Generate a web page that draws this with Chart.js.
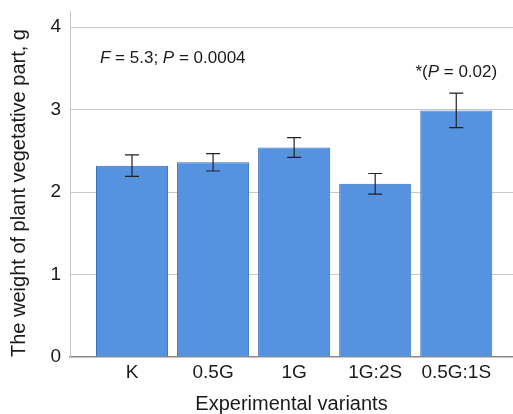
<!DOCTYPE html>
<html>
<head>
<meta charset="utf-8">
<script src="https://cdn.jsdelivr.net/npm/chart.js@4"></script>
<style>
html,body{margin:0;padding:0;background:#fff;}
#wrap{width:513px;height:414px;position:relative;}
</style>
</head>
<body>
<div id="wrap"><canvas id="c" width="513" height="414"></canvas></div>
<script>
const categories = ["K", "0.5G", "1G", "1G:2S", "0.5G:1S"];
const means = [2.32, 2.36, 2.54, 2.10, 2.99];
const errors = [0.13, 0.105, 0.12, 0.125, 0.21];
const yTicks = [0, 1, 2, 3, 4];
const anovaText = [["F", true], [" = 5.3; ", false], ["P", true], [" = 0.0004", false]];
const sigText = [["*(", false], ["P", true], [" = 0.02)", false]];
const sigIndex = 4;

const FONT = "'Liberation Sans', Arial, sans-serif";

function drawRuns(ctx, runs, x, y, size, align) {
  let total = 0;
  const widths = runs.map(([t, it]) => {
    ctx.font = (it ? "italic " : "") + size + "px " + FONT;
    const w = ctx.measureText(t).width; total += w; return w;
  });
  let cx = align === "center" ? x - total / 2 : x;
  runs.forEach(([t, it], i) => {
    ctx.font = (it ? "italic " : "") + size + "px " + FONT;
    ctx.fillText(t, cx, y);
    cx += widths[i];
  });
}

const extras = {
  id: "extras",
  afterDatasetsDraw(chart) {
    const ctx = chart.ctx, xs = chart.scales.x, ys = chart.scales.y;
    ctx.save();
    ctx.strokeStyle = "#222";
    ctx.lineWidth = 1.2;
    means.forEach((m, i) => {
      const x = xs.getPixelForValue(i);
      const t = ys.getPixelForValue(m + errors[i]);
      const b = ys.getPixelForValue(m - errors[i]);
      ctx.beginPath();
      ctx.moveTo(x, t); ctx.lineTo(x, b);
      ctx.moveTo(x - 7, t); ctx.lineTo(x + 7, t);
      ctx.moveTo(x - 7, b); ctx.lineTo(x + 7, b);
      ctx.stroke();
    });
    ctx.fillStyle = "#1a1a1a";
    ctx.textBaseline = "middle";
    drawRuns(ctx, anovaText, xs.getPixelForValue(-0.395), ys.getPixelForValue(3.62), 17, "left");
    drawRuns(ctx, sigText, xs.getPixelForValue(sigIndex), ys.getPixelForValue(3.45), 17, "center");
    ctx.restore();
  }
};

new Chart(document.getElementById("c"), {
  type: "bar",
  data: {
    datasets: [{
      data: means.map((v, i) => ({ x: i, y: v })),
      backgroundColor: "#5592E0",
      borderColor: "#3A72C0",
      borderWidth: 1,
      barPercentage: 0.889,
      categoryPercentage: 1
    }]
  },
  options: {
    responsive: false,
    animation: false,
    layout: { padding: { top: 0, right: 0, left: 0, bottom: 0 } },
    plugins: { legend: { display: false }, tooltip: { enabled: false } },
    scales: {
      x: {
        type: "linear",
        offset: false,
        min: -0.765,
        max: 4.70,
        afterBuildTicks: (s) => { s.ticks = categories.map((c, i) => ({ value: i })); },
        afterFit: (s) => { s.height = 57; },
        ticks: {
          callback: (v) => categories[v],
          color: "#1a1a1a",
          font: { family: FONT, size: 19 },
          padding: 4,
          autoSkip: false,
          maxRotation: 0
        },
        grid: { display: false, drawTicks: false, offset: false },
        border: { display: true, color: "#8a8a8a", width: 1.5 },
        title: {
          display: true,
          text: "Experimental variants",
          color: "#1a1a1a",
          font: { family: FONT, size: 20 },
          padding: { top: 0, bottom: -2 }
        }
      },
      y: {
        min: 0,
        max: 4.19,
        afterBuildTicks: (s) => { s.ticks = yTicks.map(v => ({ value: v })); },
        afterFit: (s) => { s.width = 70; },
        ticks: {
          color: "#1a1a1a",
          font: { family: FONT, size: 19 },
          padding: 0
        },
        grid: {
          drawTicks: true,
          tickLength: 9,
          tickColor: "rgba(0,0,0,0)",
          color: (c) => (c.tick && c.tick.value === 0) ? "rgba(0,0,0,0)" : "#c8c8c8",
          lineWidth: 1
        },
        border: { display: true, color: "#c8c8c8", width: 1 },
        title: {
          display: true,
          align: "start",
          text: "The weight of plant vegetative part, g",
          color: "#1a1a1a",
          font: { family: FONT, size: 20 },
          padding: { top: 7, bottom: 0 }
        }
      }
    }
  },
  plugins: [extras]
});
</script>
</body>
</html>
